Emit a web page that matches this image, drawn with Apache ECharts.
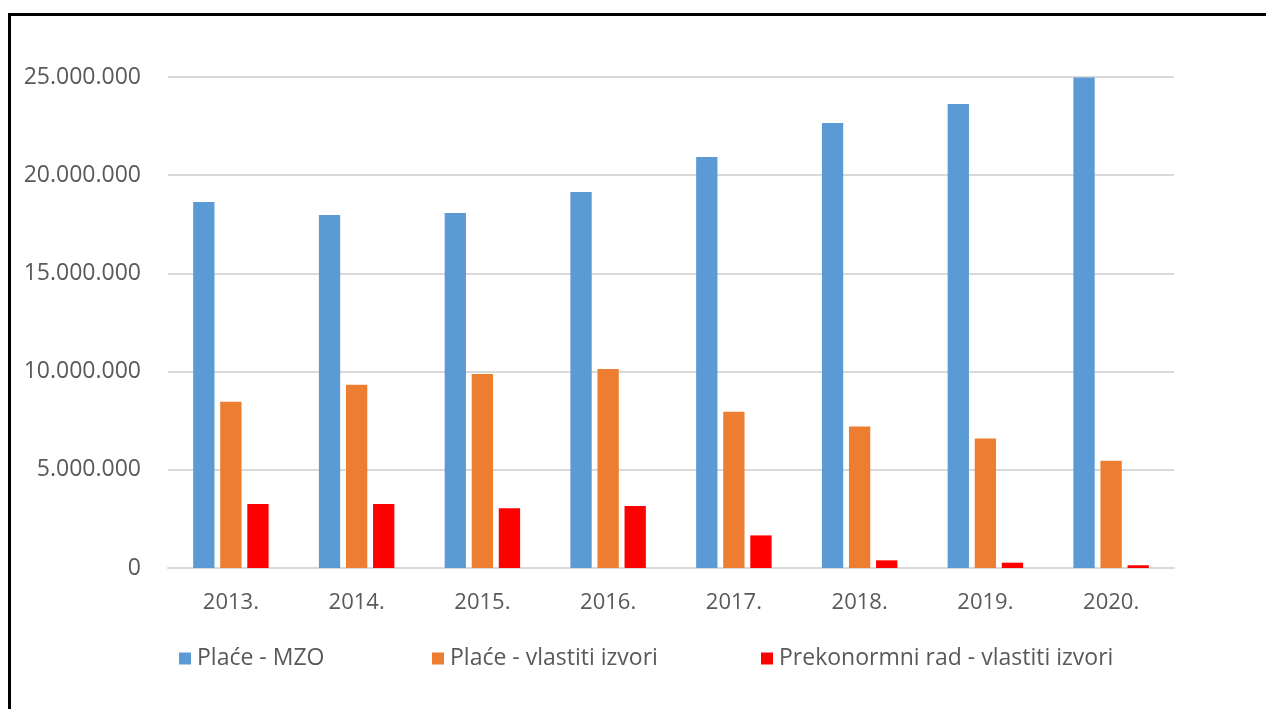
<!DOCTYPE html>
<html><head><meta charset="utf-8">
<script src="https://cdn.jsdelivr.net/npm/echarts@6/dist/echarts.min.js"></script>
<style>html,body{margin:0;padding:0;background:#fff}#c{width:1266px;height:709px}</style>
</head><body><div id="c"></div>
<script>
var categories = ['2013.', '2014.', '2015.', '2016.', '2017.', '2018.', '2019.', '2020.'];
var seriesNames = ['Plaće - MZO', 'Plaće - vlastiti izvori', 'Prekonormni rad - vlastiti izvori'];
var placeMZO = [18630000, 17970000, 18080000, 19140000, 20930000, 22660000, 23630000, 24980000];
var placeVlastiti = [8470000, 9330000, 9880000, 10130000, 7960000, 7200000, 6600000, 5460000];
var prekonormni = [3260000, 3260000, 3040000, 3160000, 1660000, 390000, 270000, 140000];
var colors = ['#5b9bd5', '#ed7d31', '#ff0000'];

function fmt(v){ return String(v).replace(/\B(?=(\d{3})+(?!\d))/g, '.'); }

var chart = echarts.init(document.getElementById('c'), null, {renderer:'canvas'});
var font = 'Open Sans';
var legendBase = {
  top: 647, itemWidth: 12, itemHeight: 12, icon: 'rect', itemGap: 6, padding: 0,
  textStyle: {fontFamily: font, fontSize: 23, color: '#595959', padding: [0, 0, 0, 1]}
};
chart.setOption({
  backgroundColor: '#ffffff',
  animation: false,
  color: colors,
  graphic: [{type:'rect', shape:{x:9.5, y:14.5, width:1400, height:900}, style:{fill:'none', stroke:'#000', lineWidth:3}, silent:true}],
  legend: [
    Object.assign({}, legendBase, {left: 179, data: [seriesNames[0]]}),
    Object.assign({}, legendBase, {left: 432, data: [seriesNames[1]]}),
    Object.assign({}, legendBase, {left: 761, data: [seriesNames[2]]})
  ],
  grid: {left: 168, right: 92, top: 77, bottom: 141, containLabel: false},
  xAxis: {
    type: 'category', data: categories,
    axisLine: {lineStyle: {color: '#d9d9d9', width: 2}},
    axisTick: {show: false},
    axisLabel: {fontFamily: font, fontSize: 22, color: '#595959', margin: 24}
  },
  yAxis: {
    type: 'value', min: 0, max: 25000000, interval: 5000000,
    axisLine: {show: false}, axisTick: {show: false},
    splitLine: {lineStyle: {color: '#d9d9d9', width: 2}},
    axisLabel: {fontFamily: font, fontSize: 23, color: '#595959', margin: 27, formatter: fmt}
  },
  series: [
    {name: seriesNames[0], type: 'bar', data: placeMZO, barGap: '27%', barCategoryGap: '40%'},
    {name: seriesNames[1], type: 'bar', data: placeVlastiti},
    {name: seriesNames[2], type: 'bar', data: prekonormni}
  ]
});
</script></body></html>
